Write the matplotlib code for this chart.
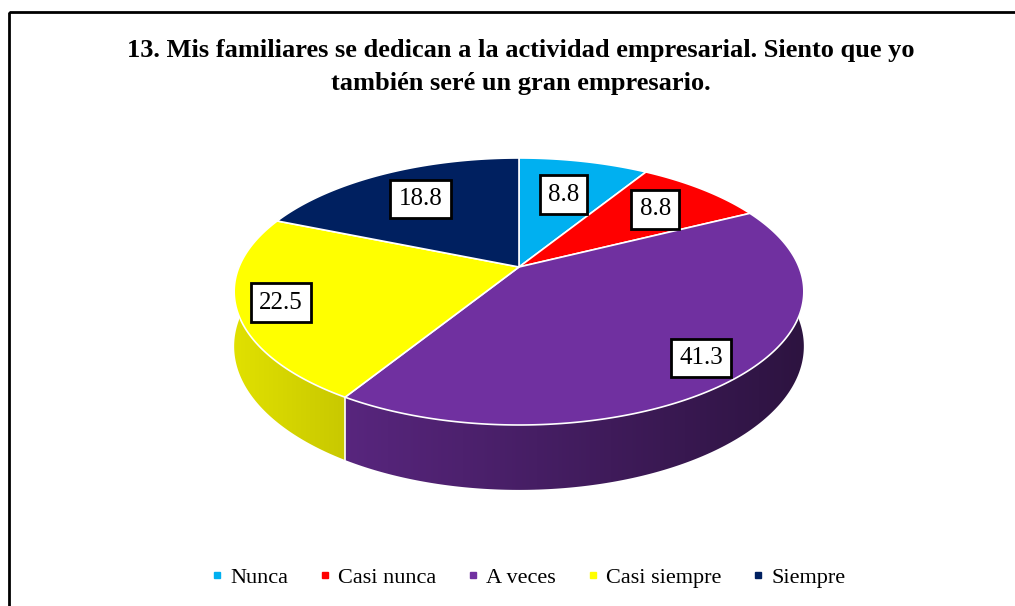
import numpy as np
import matplotlib
matplotlib.use('Agg')
import matplotlib.pyplot as plt
from matplotlib.patches import Rectangle, Polygon
from matplotlib.lines import Line2D

categories = ['Nunca', 'Casi nunca', 'A veces', 'Casi siempre', 'Siempre']
values = [8.8, 8.8, 41.3, 22.5, 18.8]
colors = ['#00b0f0', '#ff0000', '#7030a0', '#ffff00', '#002060']
title = '13. Mis familiares se dedican a la actividad empresarial. Siento que yo\ntambién seré un gran empresario.'

plt.rcParams['font.family'] = ['Liberation Serif', 'DejaVu Serif']

W, H = 1015, 606
fig = plt.figure(figsize=(W / 100, H / 100), dpi=100)
ax = fig.add_axes([0, 0, 1, 1])
ax.set_xlim(0, W)
ax.set_ylim(H, 0)
ax.axis('off')

# simple perspective model of a tilted disk
cx, cy = 519, 267     # projected centre of the pie
a, b = 129, 280       # half-depth / half-width of the top face
k = 0.1835            # perspective strength
depth = 53            # thickness of the pie


def project(theta, r=1.0, drop=0.0):
    u = r * np.cos(theta)
    v = r * np.sin(theta)
    w = 1 + k * v
    return cx + b * u / w, cy - a * v / w + drop / w


# wedge angles, clockwise from 12 o'clock
fracs = np.array(values) / np.sum(values)
edges = np.pi / 2 - 2 * np.pi * np.concatenate([[0], np.cumsum(fracs)])

# horizontal shading for the side walls
x_left, x_right = cx - 286, cx + 286
shade = np.linspace(0.88, 0.40, 256)

for i in range(len(values)):
    # part of the wedge that lies on the front half (pi..2pi)
    lo = np.mod(edges[i + 1], 2 * np.pi)
    hi = lo + (edges[i] - edges[i + 1])
    t0, t1 = max(lo, np.pi), min(hi, 2 * np.pi)
    if t1 <= t0:
        continue
    ts = np.linspace(t0, t1, 200)
    xt, yt = project(ts)
    xb, yb = project(ts, drop=depth)
    poly = Polygon(np.c_[np.r_[xt, xb[::-1]], np.r_[yt, yb[::-1]]],
                   closed=True, fc='none', ec='none')
    ax.add_patch(poly)
    base = np.array(matplotlib.colors.to_rgb(colors[i]))
    grad = (shade[:, None] * base[None, :])[None, :, :]
    im = ax.imshow(grad, extent=(x_left, x_right, 560, 100), aspect='auto',
                   interpolation='bilinear', zorder=2)
    im.set_clip_path(poly)
    # white seam where a wedge boundary meets the front wall
    if np.pi < lo < 2 * np.pi:
        xs, ys = project(lo)
        xe, ye = project(lo, drop=depth)
        ax.plot([xs, xe], [ys, ye], color='white', lw=1.2, zorder=3)

ax.set_xlim(0, W)
ax.set_ylim(H, 0)

# top face
for i in range(len(values)):
    ts = np.linspace(edges[i], edges[i + 1], 200)
    xs, ys = project(ts)
    ax.fill(np.r_[cx, xs], np.r_[cy, ys], color=colors[i], ec='white',
            lw=1.2, zorder=4, joinstyle='round')

# data labels
label_r = [0.65, 0.72, 0.85, 0.85, 0.7]
for i, val in enumerate(values):
    tm = (edges[i] + edges[i + 1]) / 2
    lx, ly = project(tm, r=label_r[i])
    ax.text(lx, ly, f'{val:.1f}', ha='center', va='center', fontsize=18,
            zorder=6,
            bbox=dict(boxstyle='square,pad=0.33', fc='white', ec='black',
                      lw=2))

fig.text(0.513, 0.890, title, ha='center', va='center', fontsize=19,
         fontweight='bold', linespacing=1.55)

handles = [Line2D([], [], marker='s', ls='', color=c, markersize=5)
           for c in colors]
fig.legend(handles, categories, loc='center', bbox_to_anchor=(0.518, 0.047),
           ncol=5, frameon=False, fontsize=16, handletextpad=0.1,
           columnspacing=1.15, handlelength=1.0)

# outer frame (cut off at the right and bottom like the reference)
ax.add_patch(Rectangle((9, 12), 1100, 700, fill=False, ec='black', lw=2,
                       zorder=1))

fig.savefig('out.png', dpi=100)
